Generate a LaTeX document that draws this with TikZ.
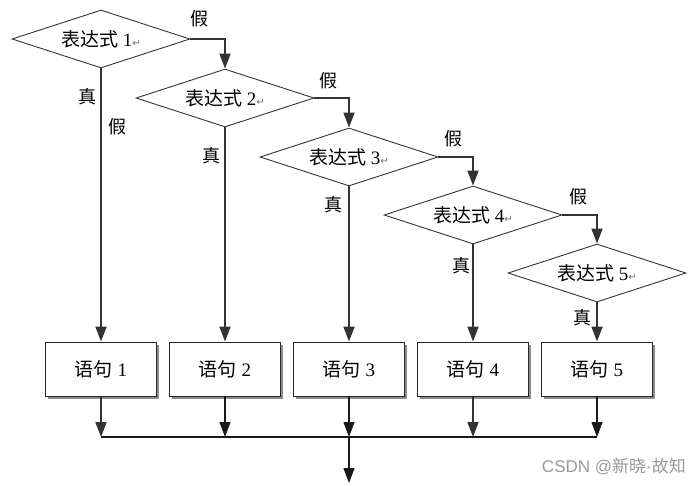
\documentclass[tikz,border=0pt]{standalone}
\usepackage{fontspec}
\setmainfont{Liberation Serif}
\newfontfamily\cjk{Noto Sans CJK SC}
\newfontfamily\djv{DejaVu Sans}
\usetikzlibrary{shapes.geometric,arrows.meta}
\begin{document}
\begin{tikzpicture}[x=1pt,y=-1pt,
  dia/.style={diamond,aspect=3.07,draw=black!80,line width=0.9pt,inner sep=0pt,minimum width=178pt,minimum height=58pt,font=\fontsize{19}{21}\selectfont},
  stmt/.style={rectangle,draw=black!85,line width=0.9pt,minimum width=111pt,minimum height=54pt,font=\fontsize{19}{21}\selectfont,fill=white},
  conn/.style={line width=1.8pt,draw=black!80,-{Triangle[length=15pt,width=11pt]}},
  thinconn/.style={line width=1.1pt,draw=black!90,-{Triangle[length=15pt,width=11pt]}},
  lab/.style={font=\cjk\fontsize{18}{20}\selectfont,inner sep=0pt}]
\useasboundingbox (0,0) rectangle (700,485);
\newcommand{\rmk}{{\djv\fontsize{10}{11}\selectfont\color{black!55}↵}}
% diamonds
\node[dia] (d1) at (101,39) {{\cjk 表达式} 1\rmk};
\node[dia] (d2) at (225,98) {{\cjk 表达式} 2\rmk};
\node[dia] (d3) at (349,157) {{\cjk 表达式} 3\rmk};
\node[dia] (d4) at (473,215) {{\cjk 表达式} 4\rmk};
\node[dia] (d5) at (597,273) {{\cjk 表达式} 5\rmk};
% statement boxes with shadow
\foreach \i/\x in {1/101,2/225,3/349,4/473,5/597}{
  \fill[black!45] (\x-55.5+2.5,342+2.5) rectangle (\x+55.5+2.5,396+2.5);
}
\node[stmt] (b1) at (101,369) {{\cjk 语句} 1};
\node[stmt] (b2) at (225,369) {{\cjk 语句} 2};
\node[stmt] (b3) at (349,369) {{\cjk 语句} 3};
\node[stmt] (b4) at (473,369) {{\cjk 语句} 4};
\node[stmt] (b5) at (597,369) {{\cjk 语句} 5};
% false branches
\draw[conn] (d1.east) -| (d2.north);
\draw[conn] (d2.east) -| (d3.north);
\draw[conn] (d3.east) -| (d4.north);
\draw[conn] (d4.east) -| (d5.north);
% true branches
\draw[conn] (d1.south) -- (b1.north);
\draw[conn] (d2.south) -- (b2.north);
\draw[conn] (d3.south) -- (b3.north);
\draw[conn] (d4.south) -- (b4.north);
\draw[conn] (d5.south) -- (b5.north);
% junction
\coordinate (j1) at (101,437);
\coordinate (j2) at (225,437);
\coordinate (j3) at (349,437);
\coordinate (j4) at (473,437);
\coordinate (j5) at (597,437);
\coordinate (e) at (349,483);
\draw[conn] (b1.south) -- (j1);
\draw[thinconn] (b2.south) -- (j2);
\draw[thinconn] (b3.south) -- (j3);
\draw[conn] (b4.south) -- (j4);
\draw[thinconn] (b5.south) -- (j5);
\draw[line width=1.1pt,black!90] (j1) -- (j5);
\draw[thinconn] (j3) -- (e);
% labels
\node[lab] (f1) at (199,19) {假};
\node[lab] (f2) at (328,81) {假};
\node[lab] (f3) at (453,139) {假};
\node[lab] (f4) at (578,197) {假};
\node[lab] (fx) at (117,127) {假};
\node[lab] (t1) at (87,97) {真};
\node[lab] (t2) at (211,156) {真};
\node[lab] (t3) at (333,205) {真};
\node[lab] (t4) at (461,266) {真};
\node[lab] (t5) at (582,318) {真};
\node[font=\fontsize{17}{19}\selectfont,text=black!40,inner sep=0pt,anchor=east] (wm) at (686,466) {{\fontspec{Liberation Sans}CSDN @}{\cjk 新晓}{\fontspec{Liberation Sans}·}{\cjk 故知}};
\end{tikzpicture}
\end{document}
